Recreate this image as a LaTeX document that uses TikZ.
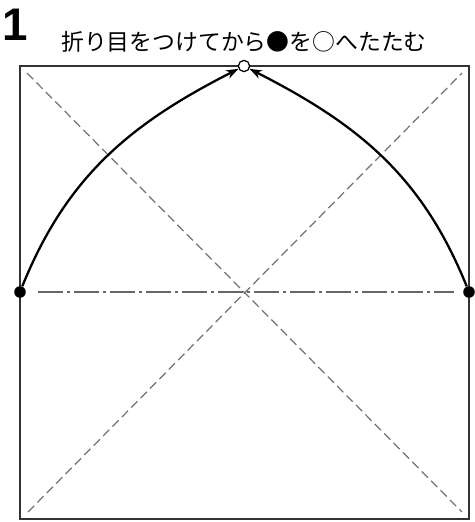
\documentclass[tikz,border=0pt]{standalone}
\usepackage{fontspec}
\newfontfamily\jpfont{Noto Sans CJK JP}
\newfontfamily\numfont{Liberation Sans}
\usetikzlibrary{arrows.meta,positioning}

\tikzset{
  crease/.style={draw=black!55,line width=0.7pt,dash pattern=on 5pt off 2.6pt},
  midcrease/.style={draw=black!60,line width=0.8pt,dash pattern=on 14pt off 2.5pt on 1.5pt off 2.5pt},
  blackdot/.style={circle,fill=black,inner sep=0pt,minimum size=6.6pt},
  whitedot/.style={circle,draw=black,fill=white,line width=0.7pt,inner sep=0pt,minimum size=6.4pt},
  foldarrow/.style={draw=black,line width=1.3pt,-{Stealth[length=7pt,width=5pt]}}
}

\begin{document}
\begin{tikzpicture}[x=0.02cm,y=0.02cm]
    \useasboundingbox (0,0) rectangle (475,522);
    \fill[white] (0,0) rectangle (475,522);
    % Paper square
    \draw[black!80,line width=1.1pt] (20,3) rectangle (469,456);
    % Diagonal creases
    \draw[crease] (28,10) -- (462,449);
    \draw[crease] (27,449) -- (462,10);
    % Horizontal crease
    \draw[midcrease] (38,230) -- (454,230);
    % Step number and caption
    \node[font=\numfont\bfseries\fontsize{26}{28}\selectfont] (num) at (15,497) {1};
    \node[font=\jpfont\fontsize{13}{16}\selectfont] (caption) at (244,480) {折り目をつけてから●を○へたたむ};
    % Points
    \node[blackdot] (left) at (20,230) {};
    \node[blackdot] (right) at (469,230) {};
    \node[whitedot] (top) at (244,456) {};
    % Fold arrows
    \draw[foldarrow] (left) to[out=68,in=207] (top);
    \draw[foldarrow] (right) to[out=112,in=-27] (top);
\end{tikzpicture}
\end{document}
